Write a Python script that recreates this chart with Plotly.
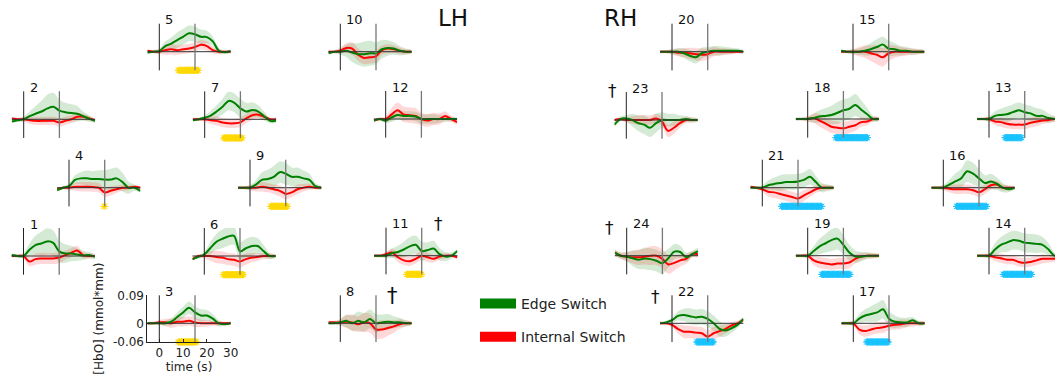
import numpy as np
import plotly.graph_objects as go

W, H = 1055, 381

# ---------------- data (values in units of 0.01 mmol*mm) ----------------
UNIT = 0.01
T = [-5, -2.5, 0, 2.5, 5, 7.5, 10, 12.5, 15, 17.5, 20, 22.5, 25, 27.5, 30]
STIM_ON, STIM_OFF = 0, 15
X_RANGE = [-5, 30]
Y_RANGE = [-0.06, 0.09]
Y_TICKS = [-0.06, 0, 0.09]
Y_TICKTEXT = ["-0.06", "0", "0.09"]
X_TICKS = [0, 10, 20, 30]

EDGE_MEAN = {
    1: [0.3, 0.0, 0.0, 2.0, 3.5, 4.0, 4.7, 4.2, 1.5, 0.8, 0.8, 0.5, 0.2, 0.3, -0.3],
    2: [-0.7, -0.3, 0.0, 1.0, 1.8, 2.5, 3.5, 4.0, 2.8, 2.3, 2.0, 1.8, 1.0, 0.2, -0.5],
    3: [0.0, 0.0, 0.0, 0.0, 0.5, 2.0, 3.5, 5.0, 3.5, 2.5, 2.5, 1.5, 0.0, -0.3, 0.0],
    4: [-0.8, 0.0, 0.5, 2.5, 3.0, 3.0, 2.8, 2.8, 2.6, 2.6, 3.0, 1.8, 0.0, 0.0, -1.0],
    5: [-0.3, 0.0, 0.2, 1.8, 2.6, 3.7, 4.8, 5.9, 5.6, 4.8, 4.7, 3.3, 0.3, -0.2, 0.2],
    6: [-1.0, -0.3, 0.5, 2.5, 4.5, 5.5, 6.3, 6.5, 1.5, 2.5, 3.2, 3.2, 1.5, 0.0, 0.0],
    7: [-0.3, 0.0, 0.5, 1.2, 2.5, 4.0, 5.9, 5.3, 3.5, 2.5, 3.0, 2.5, 1.0, -0.5, -0.5],
    8: [0.0, 0.0, 0.3, 0.8, 0.0, 0.8, 0.3, 1.4, 0.0, 0.3, 0.5, 0.3, 0.3, 0.0, 0.0],
    9: [0.0, 0.0, 0.0, 1.0, 2.5, 2.8, 3.5, 5.0, 4.5, 3.5, 3.5, 3.0, 2.5, 0.5, 0.0],
    10: [-0.5, 0.0, 0.0, 0.3, -0.3, -0.8, -0.8, -0.5, -0.5, 0.8, 1.2, 1.0, 0.3, 0.0, 0.0],
    11: [0.0, 0.0, 0.0, 0.8, 1.2, 2.0, 3.0, 3.5, 1.5, 1.8, 2.3, 0.5, -0.3, 0.0, 1.5],
    12: [-0.5, 0.0, -0.5, 0.5, 1.3, 1.0, 1.0, 0.8, 0.0, 0.0, 0.0, 0.0, 0.0, 0.0, 0.0],
    13: [0.0, 0.0, 0.0, 1.0, 1.3, 1.5, 2.2, 2.8, 2.2, 1.8, 1.0, 1.0, 0.3, 0.0, 0.0],
    14: [0.0, 0.0, 0.0, 2.0, 3.5, 4.2, 5.0, 4.8, 4.2, 4.0, 3.8, 3.5, 2.0, 0.0, 0.0],
    15: [0.3, 0.0, 0.0, 0.0, 0.3, 0.8, 1.5, 2.3, 1.0, 0.8, 0.3, 0.3, 0.0, 0.0, 0.0],
    16: [0.0, 0.0, 0.0, 1.0, 2.0, 3.0, 5.3, 4.5, 3.0, 1.5, 2.0, 1.3, 0.0, -0.5, 0.0],
    17: [0.0, 0.0, 0.0, 1.5, 2.5, 3.0, 3.5, 4.5, 1.5, 0.5, 0.3, 0.3, 1.0, 0.0, 0.0],
    18: [0.0, 0.0, 0.0, 0.3, 0.8, 1.0, 1.3, 2.0, 2.8, 3.3, 4.5, 3.0, 1.5, 0.0, 0.0],
    19: [0.0, 0.0, 0.0, 1.5, 3.0, 4.0, 5.0, 5.5, 3.5, 1.0, -0.3, -0.3, 0.0, 0.0, 0.0],
    20: [0.0, 0.0, 0.0, 0.0, -0.5, -1.3, -1.8, -0.5, 0.0, 0.3, 0.3, 0.3, 0.3, 0.3, 0.0],
    21: [0.0, 0.0, 0.0, 0.8, 1.2, 1.5, 1.8, 1.8, 2.0, 2.5, 3.5, 1.8, 0.0, 0.0, 0.0],
    22: [0.0, 0.3, 1.0, 2.4, 2.7, 2.3, 1.9, 2.1, 1.4, 0.0, -1.8, -2.3, -1.6, -0.5, 1.4],
    23: [-1.5, 0.3, 0.5, 0.0, -1.0, -1.5, -2.5, -1.0, 0.0, 0.0, 0.0, 0.0, 0.3, 0.0, 0.0],
    24: [1.0, 0.0, -0.3, -0.8, -1.3, -0.9, -1.1, -1.6, -2.4, -0.8, 1.3, 1.2, -0.5, 0.5, 1.5],
}
EDGE_SEM = {
    1: [0.5, 0.5, 0.8, 2.0, 3.0, 3.8, 4.2, 4.0, 3.5, 3.0, 2.5, 2.0, 1.5, 1.0, 0.8],
    2: [0.5, 0.5, 0.8, 1.5, 2.5, 3.5, 4.5, 4.5, 3.5, 3.0, 2.8, 2.5, 1.5, 1.0, 0.5],
    3: [0.5, 0.5, 0.5, 0.8, 1.2, 1.5, 1.8, 2.0, 2.0, 2.0, 1.8, 1.5, 1.0, 0.5, 0.5],
    4: [0.5, 0.5, 0.8, 1.5, 2.0, 2.5, 2.5, 2.8, 3.0, 3.5, 3.5, 3.0, 2.0, 1.0, 0.5],
    5: [0.5, 0.5, 0.8, 1.5, 2.0, 2.5, 2.5, 2.5, 2.5, 2.3, 2.0, 1.5, 1.0, 0.5, 0.5],
    6: [0.5, 0.5, 0.8, 2.0, 2.5, 3.0, 3.0, 3.0, 3.0, 3.0, 3.0, 2.5, 2.0, 1.0, 0.5],
    7: [0.5, 0.5, 0.8, 1.5, 2.0, 2.5, 3.0, 3.0, 3.0, 2.8, 2.5, 2.0, 1.5, 0.8, 0.5],
    8: [0.5, 0.5, 1.0, 2.0, 2.5, 3.0, 3.0, 3.0, 3.0, 2.5, 2.5, 2.0, 1.5, 1.0, 0.5],
    9: [0.5, 0.5, 0.8, 1.5, 2.5, 3.0, 3.5, 3.5, 3.5, 3.0, 3.0, 2.5, 2.0, 1.0, 0.5],
    10: [0.5, 0.5, 1.0, 2.0, 3.0, 3.5, 4.0, 4.0, 3.5, 3.0, 2.5, 2.0, 1.5, 1.0, 0.5],
    11: [0.5, 0.5, 0.8, 1.5, 2.0, 2.5, 3.0, 3.0, 3.0, 2.5, 2.5, 2.0, 1.5, 1.0, 0.5],
    12: [0.5, 0.5, 0.8, 1.5, 1.5, 1.5, 1.5, 1.5, 1.5, 1.5, 1.5, 1.2, 1.0, 0.8, 0.5],
    13: [0.5, 0.5, 0.8, 1.5, 2.0, 2.5, 2.5, 2.5, 2.5, 2.5, 2.5, 2.0, 1.5, 1.0, 0.5],
    14: [0.5, 0.5, 0.8, 2.0, 2.5, 3.0, 3.0, 3.0, 3.0, 3.0, 3.0, 2.5, 2.0, 1.0, 0.5],
    15: [0.5, 0.5, 0.8, 1.0, 1.5, 2.0, 2.5, 2.5, 2.5, 2.0, 1.5, 1.2, 1.0, 0.8, 0.5],
    16: [0.5, 0.5, 0.8, 1.5, 2.5, 3.0, 3.5, 3.5, 3.0, 2.5, 2.5, 2.0, 1.5, 1.0, 0.5],
    17: [0.5, 0.5, 0.8, 1.5, 2.0, 2.5, 3.0, 3.0, 2.5, 2.0, 1.5, 1.5, 1.0, 0.8, 0.5],
    18: [0.5, 0.5, 0.8, 1.5, 2.0, 2.5, 3.0, 3.5, 3.5, 3.5, 3.5, 3.0, 2.0, 1.0, 0.5],
    19: [0.5, 0.5, 0.8, 1.5, 2.5, 3.0, 3.5, 3.5, 3.0, 2.5, 2.0, 1.5, 1.0, 0.8, 0.5],
    20: [0.5, 0.5, 0.8, 1.2, 1.5, 1.8, 2.0, 1.8, 1.5, 1.5, 1.5, 1.2, 1.0, 0.8, 0.5],
    21: [0.5, 0.5, 0.8, 1.5, 2.0, 2.5, 2.5, 2.5, 2.5, 2.5, 2.5, 2.0, 1.5, 1.0, 0.5],
    22: [0.5, 0.5, 0.8, 1.5, 2.0, 2.5, 2.5, 2.5, 2.5, 2.5, 2.5, 2.0, 1.5, 1.0, 0.5],
    23: [0.8, 0.8, 1.0, 2.0, 2.5, 3.0, 3.0, 3.0, 2.5, 2.0, 2.0, 1.5, 1.0, 0.8, 0.5],
    24: [1.0, 1.0, 1.5, 2.5, 3.0, 3.5, 3.5, 3.5, 3.5, 3.0, 2.5, 2.0, 1.5, 1.0, 1.0],
}
INT_MEAN = {
    1: [0.0, 0.0, 0.0, -1.8, -1.0, -0.8, -0.8, -0.8, -0.5, 0.3, 1.0, 1.8, 0.3, 0.0, 0.0],
    2: [0.3, 0.0, 0.0, -0.3, -0.5, -0.5, -0.5, -0.5, -1.0, -0.5, 0.0, 0.8, 0.8, 0.3, -0.3],
    3: [0.0, 0.0, 0.3, 0.3, 0.0, 0.5, 0.5, 0.8, 0.3, 0.0, 0.0, 0.0, 0.0, 0.0, 0.0],
    4: [-0.5, 0.0, 0.0, 0.3, 0.3, 0.3, 0.2, 0.0, -1.5, -1.0, -0.5, 0.0, 0.0, 0.3, 0.0],
    5: [0.3, 0.0, 0.0, 0.5, 0.8, 0.5, 0.8, 1.0, 1.5, 2.2, 1.8, 0.5, 0.0, 0.0, 0.0],
    6: [-1.0, 0.0, 0.0, 0.0, -0.3, -0.5, -1.0, -1.2, -1.8, -1.0, -0.5, -0.3, 0.0, 0.0, 0.0],
    7: [0.0, 0.0, 0.0, -0.3, -0.5, -1.0, -1.3, -1.3, -1.0, 0.3, 1.3, 1.5, 0.8, 0.0, 0.0],
    8: [0.3, 0.3, 0.3, 0.5, 0.3, -0.3, 0.3, 0.0, -2.0, -2.0, -1.5, -1.0, -0.3, 0.0, 0.0],
    9: [0.0, 0.0, 0.0, 0.0, 0.3, 0.0, -0.5, -1.0, -2.0, -1.5, -0.5, 0.0, 0.3, 0.0, 0.0],
    10: [0.0, 0.0, 0.3, 1.2, 1.0, -1.0, -2.0, -1.8, -1.5, 0.5, 1.0, 0.8, 0.3, 0.0, 0.0],
    11: [0.0, 0.0, 0.5, 1.0, -0.5, -1.5, -1.8, -1.0, 0.0, -0.5, -1.0, -0.3, 0.0, 0.0, -0.5],
    12: [-0.5, 0.0, 0.0, 1.5, 2.8, 1.5, 1.2, 1.0, 0.0, -0.5, 0.0, 0.0, 1.0, 0.0, -1.0],
    13: [0.0, 0.0, 0.0, -0.8, -1.0, -1.5, -1.8, -1.8, -1.8, -1.2, -0.8, -0.5, -0.3, 0.0, 0.0],
    14: [0.0, 0.0, 0.0, -0.5, -0.8, -1.3, -1.3, -2.0, -2.3, -2.0, -1.5, -1.0, -1.0, -1.0, -1.0],
    15: [0.0, 0.0, 0.0, 0.0, 0.0, -0.5, -1.0, -1.8, -0.5, 0.0, 0.0, 0.0, 0.0, 0.0, 0.0],
    16: [0.0, 0.0, 0.0, -0.3, -0.5, -0.5, -0.5, -0.8, -1.5, -0.5, 0.8, 1.0, 0.0, 0.0, 0.0],
    17: [0.0, 0.0, 0.0, -2.0, -2.5, -2.0, -1.5, -1.3, -0.8, -0.5, -0.3, 0.0, 0.0, 0.0, 0.0],
    18: [0.0, 0.0, 0.0, 0.3, -0.5, -1.5, -2.5, -2.8, -3.0, -2.5, -2.0, -1.0, -0.8, 0.0, 0.0],
    19: [0.0, 0.0, 0.0, -1.5, -2.2, -2.5, -2.8, -2.5, -2.5, -2.2, -1.0, -0.3, 0.0, 0.0, 0.0],
    20: [0.0, 0.0, 0.0, -0.3, -0.3, -0.5, -0.8, -1.0, -0.8, 0.0, 0.0, 0.0, 0.0, 0.0, 0.0],
    21: [0.3, 0.0, -0.5, -1.3, -1.5, -2.0, -2.5, -3.0, -3.5, -2.5, -1.5, -0.5, 0.0, 0.0, 0.0],
    22: [0.0, 0.0, -0.5, -1.8, -2.7, -2.7, -3.0, -3.2, -4.3, -3.2, -2.5, -1.8, -0.7, 0.0, 1.0],
    23: [0.0, 0.3, 0.0, 0.0, 0.0, 0.0, 0.0, 0.5, -0.5, -3.5, -2.5, -1.0, 0.0, 0.0, 0.0],
    24: [1.0, 0.0, -0.3, -0.5, -0.5, -0.3, 0.0, 0.0, -1.0, -2.8, -2.3, -1.5, -1.0, 0.5, 0.5],
}
INT_SEM = {
    1: [0.5, 0.5, 0.8, 1.5, 1.8, 1.8, 1.8, 1.8, 1.8, 1.5, 1.5, 1.5, 1.0, 0.8, 0.5],
    2: [0.5, 0.5, 0.8, 1.2, 1.3, 1.3, 1.3, 1.3, 1.3, 1.3, 1.3, 1.2, 1.0, 0.8, 0.5],
    3: [0.5, 0.5, 0.8, 1.2, 1.5, 1.5, 1.5, 1.5, 1.5, 1.2, 1.0, 0.8, 0.8, 0.5, 0.5],
    4: [0.5, 0.5, 0.8, 1.2, 1.5, 1.5, 1.5, 1.5, 1.5, 1.5, 1.2, 1.0, 0.8, 0.5, 0.5],
    5: [0.5, 0.5, 0.8, 1.5, 1.8, 1.5, 1.5, 1.5, 1.5, 1.5, 1.5, 1.0, 0.8, 0.5, 0.5],
    6: [0.5, 0.5, 0.8, 1.5, 2.0, 2.0, 2.0, 2.0, 2.0, 1.8, 1.5, 1.2, 1.0, 0.8, 0.5],
    7: [0.5, 0.5, 0.8, 1.2, 1.5, 1.5, 1.5, 1.5, 1.5, 1.5, 1.5, 1.2, 1.0, 0.5, 0.5],
    8: [0.5, 0.5, 1.0, 2.0, 2.5, 2.5, 3.0, 3.0, 3.0, 3.0, 2.5, 2.0, 1.5, 1.0, 0.5],
    9: [0.5, 0.5, 0.8, 1.2, 1.5, 1.5, 1.5, 1.8, 1.8, 1.5, 1.5, 1.2, 1.0, 0.5, 0.5],
    10: [0.5, 0.5, 1.0, 1.5, 2.0, 2.0, 2.0, 2.0, 2.0, 1.5, 1.5, 1.2, 1.0, 0.8, 0.5],
    11: [0.5, 0.5, 0.8, 1.2, 1.5, 1.5, 1.5, 1.5, 1.5, 1.5, 1.2, 1.0, 0.8, 0.5, 0.5],
    12: [0.5, 0.5, 1.0, 2.0, 2.5, 2.5, 2.5, 2.5, 2.0, 2.0, 2.0, 1.8, 1.5, 1.0, 0.8],
    13: [0.5, 0.5, 0.8, 1.2, 1.5, 1.5, 1.5, 1.5, 1.5, 1.5, 1.5, 1.2, 1.0, 0.8, 0.5],
    14: [0.5, 0.5, 0.8, 1.2, 1.5, 1.5, 1.5, 1.5, 1.5, 1.5, 1.5, 1.5, 1.2, 1.0, 0.8],
    15: [0.5, 0.5, 0.8, 1.5, 2.0, 2.5, 3.0, 3.0, 2.5, 2.0, 1.5, 1.2, 1.0, 0.8, 0.5],
    16: [0.5, 0.5, 0.8, 1.2, 1.5, 1.5, 1.5, 1.5, 1.5, 1.5, 1.5, 1.2, 1.0, 0.8, 0.5],
    17: [0.5, 0.5, 0.8, 1.5, 1.8, 1.8, 1.8, 1.8, 1.5, 1.5, 1.5, 1.2, 1.0, 0.8, 0.5],
    18: [0.5, 0.5, 0.8, 1.5, 2.0, 2.0, 2.0, 2.0, 2.0, 2.0, 1.8, 1.5, 1.2, 0.8, 0.5],
    19: [0.5, 0.5, 0.8, 1.5, 1.8, 1.8, 1.8, 1.8, 1.8, 1.8, 1.5, 1.2, 1.0, 0.8, 0.5],
    20: [0.5, 0.5, 0.8, 1.2, 1.5, 1.8, 2.0, 2.0, 1.8, 1.5, 1.2, 1.0, 0.8, 0.5, 0.5],
    21: [0.5, 0.5, 0.8, 1.5, 1.8, 1.8, 1.8, 1.8, 1.8, 1.8, 1.5, 1.2, 1.0, 0.8, 0.5],
    22: [0.5, 0.5, 0.8, 1.5, 2.0, 2.0, 2.0, 2.0, 2.0, 2.0, 1.8, 1.5, 1.2, 0.8, 0.5],
    23: [0.5, 0.5, 0.8, 1.2, 1.5, 1.5, 1.5, 1.5, 1.5, 2.0, 2.0, 1.5, 1.0, 0.8, 0.5],
    24: [1.0, 1.0, 1.5, 2.0, 2.5, 2.5, 3.0, 3.0, 3.0, 3.0, 2.5, 2.0, 1.5, 1.0, 1.0],
}
# significant intervals (s)
SIG = {
    3: (8.0, 15.7), 4: (14.7, 15.3), 5: (8.0, 16.4), 6: (8.0, 16.4), 7: (8.0, 16.0),
    9: (8.7, 15.7), 11: (8.7, 15.0),
    13: (6.7, 14.0), 14: (6.0, 18.0), 16: (5.6, 18.2), 17: (5.6, 14.7),
    18: (11.8, 25.1), 19: (5.9, 17.8), 21: (8.1, 24.9), 22: (10.4, 17.4),
}
LH_CHANNELS = list(range(1, 13))
DAGGER_CHANNELS = [8, 11, 22, 23, 24]

# ---------------- layout (pixel position of each panel's t=0 / y=0 point) ----------------
POS = {
    1: (23.5, 256), 2: (23.7, 119.3), 3: (159.3, 323.3), 4: (69, 187.7),
    5: (159.3, 51.7), 6: (204.3, 256), 7: (204.7, 119.3), 8: (340.3, 323.3),
    9: (250, 187.7), 10: (340.3, 51.7), 11: (386, 255.7), 12: (385.7, 119),
    13: (989, 119), 14: (989, 255.7), 15: (853, 51.7), 16: (943.3, 187.7),
    17: (853.3, 323.3), 18: (807.7, 119), 19: (807.7, 255.7), 20: (672, 51.7),
    21: (762.3, 187.7), 22: (672, 323.3), 23: (626.3, 120), 24: (626.7, 255.7),
}
DAGGER_POS = {8: (392, 296, 21), 11: (438, 224, 17), 22: (655, 297, 17),
              23: (612, 91, 17), 24: (609, 228, 17)}
PX_PER_S = 2.38
PX_PER_Y = 311.0


def fx(px):
    return px / W


def fy(py):
    return 1 - py / H


GREEN = "#008000"
RED = "#FF0000"
GREEN_FILL = "rgba(0,128,0,0.17)"
RED_FILL = "rgba(255,0,0,0.15)"
YELLOW = "#FFD800"
CYAN = "#19C3FF"
FONT = "DejaVu Sans"

fig = go.Figure()
layout = dict(width=W, height=H, margin=dict(l=0, r=0, t=0, b=0), autosize=False,
              plot_bgcolor="white", paper_bgcolor="white", showlegend=True,
              font=dict(family=FONT, color="#222"))
shapes, annotations = [], []

t = np.array(T)
for ch in range(1, 25):
    x0, zy = POS[ch]
    xl = x0 + X_RANGE[0] * PX_PER_S
    xr = x0 + X_RANGE[1] * PX_PER_S
    xmax = X_RANGE[1]
    if xr > W:
        xmax = (W - x0) / PX_PER_S
        xr = W
    ytop = zy - Y_RANGE[1] * PX_PER_Y
    ybot = zy - Y_RANGE[0] * PX_PER_Y
    sfx = "" if ch == 1 else str(ch)
    xa, ya = "x" + sfx, "y" + sfx
    show = ch == 3
    xaxis = dict(domain=[fx(xl), min(fx(xr), 1)], range=[X_RANGE[0], xmax], anchor=ya,
                 visible=show, showgrid=False, zeroline=False, automargin=False, fixedrange=True)
    yaxis = dict(domain=[fy(ybot), fy(ytop)], range=Y_RANGE, anchor=xa,
                 visible=show, showgrid=False, zeroline=False, automargin=False, fixedrange=True)
    if show:
        xaxis.update(showline=True, linecolor="#222", linewidth=1, ticks="inside", ticklen=3,
                     tickcolor="#222", tickvals=X_TICKS, tickfont=dict(size=12),
                     title=dict(text="time (s)", font=dict(size=12), standoff=2))
        yaxis.update(showline=True, linecolor="#222", linewidth=1, ticks="inside", ticklen=3,
                     tickcolor="#222", tickvals=Y_TICKS, ticktext=Y_TICKTEXT,
                     tickfont=dict(size=12),
                     title=dict(text="[HbO] (mmol*mm)", font=dict(size=12), standoff=6))
    layout["xaxis" + sfx] = xaxis
    layout["yaxis" + sfx] = yaxis

    ge = np.array(EDGE_MEAN[ch]) * UNIT
    gs = np.array(EDGE_SEM[ch]) * UNIT
    re_ = np.array(INT_MEAN[ch]) * UNIT
    rs = np.array(INT_SEM[ch]) * UNIT
    tt = np.concatenate([t, t[::-1]])
    for m, s, fc in ((ge, gs, GREEN_FILL), (re_, rs, RED_FILL)):
        fig.add_trace(go.Scatter(x=tt, y=np.concatenate([m + s, (m - s)[::-1]]),
                                 fill="toself", fillcolor=fc, mode="lines",
                                 line=dict(width=0, shape="spline", smoothing=0.9),
                                 hoverinfo="skip", showlegend=False, xaxis=xa, yaxis=ya))
    fig.add_trace(go.Scatter(x=t, y=re_, mode="lines",
                             line=dict(color=RED, width=2, shape="spline", smoothing=0.9),
                             showlegend=False, xaxis=xa, yaxis=ya, name="Internal Switch"))
    fig.add_trace(go.Scatter(x=t, y=ge, mode="lines",
                             line=dict(color=GREEN, width=2, shape="spline", smoothing=0.9),
                             showlegend=False, xaxis=xa, yaxis=ya, name="Edge Switch"))
    if ch in SIG:
        a, b = SIG[ch]
        col = YELLOW if ch in LH_CHANNELS else CYAN
        sx = np.arange(a, b + 1e-9, 0.35)
        fig.add_trace(go.Scatter(x=sx, y=np.full(len(sx), Y_RANGE[0]), mode="markers",
                                 marker=dict(symbol="asterisk-open", size=6, color=col,
                                             line=dict(color=col, width=1)),
                                 cliponaxis=False, showlegend=False, hoverinfo="skip",
                                 xaxis=xa, yaxis=ya))
    # reference lines
    shapes.append(dict(type="line", xref=xa + " domain", yref=ya, x0=0, x1=1, y0=0, y1=0,
                       line=dict(color="#333", width=1), layer="above"))
    shapes.append(dict(type="line", xref=xa, yref=ya + " domain", x0=STIM_ON, x1=STIM_ON, y0=0, y1=1,
                       line=dict(color="#222", width=1), layer="above"))
    shapes.append(dict(type="line", xref=xa, yref=ya + " domain", x0=STIM_OFF, x1=STIM_OFF, y0=0, y1=1,
                       line=dict(color="#777", width=1.3), layer="above"))
    annotations.append(dict(text=str(ch), xref=xa, yref=ya + " domain", x=STIM_ON, y=1,
                            xanchor="left", yanchor="middle", xshift=4, yshift=4,
                            showarrow=False, font=dict(size=13, color="#111")))
    if ch in DAGGER_CHANNELS:
        dx, dy, fs = DAGGER_POS[ch]
        annotations.append(dict(text="†", xref="paper", yref="paper", x=fx(dx), y=fy(dy),
                                xanchor="center", yanchor="middle", showarrow=False,
                                font=dict(size=fs, color="#111")))

# hemisphere labels
annotations.append(dict(text="LH", xref="paper", yref="paper", x=fx(453), y=fy(18),
                        xanchor="center", yanchor="middle", showarrow=False,
                        font=dict(size=23, color="#111")))
annotations.append(dict(text="RH", xref="paper", yref="paper", x=fx(620), y=fy(18),
                        xanchor="center", yanchor="middle", showarrow=False,
                        font=dict(size=23, color="#111")))

# legend entries
fig.add_trace(go.Scatter(x=[None], y=[None], mode="lines", line=dict(color=GREEN, width=10),
                         name="Edge Switch", legendgroup="e", showlegend=True))
fig.add_trace(go.Scatter(x=[None], y=[None], mode="lines", line=dict(color=RED, width=10),
                         name="Internal Switch", legendgroup="i", showlegend=True))
layout["legend"] = dict(x=fx(475), y=fy(288), xanchor="left", yanchor="top",
                        font=dict(size=14, color="#222"), tracegroupgap=12,
                        bgcolor="rgba(0,0,0,0)", itemwidth=36)
layout["shapes"] = shapes
layout["annotations"] = annotations
fig.update_layout(**layout)
# remove the browser's default 8px body margin so the figure fills the window exactly
fig.write_html("out.html", config={"displayModeBar": False},
               post_script="document.body.style.margin='0';")
